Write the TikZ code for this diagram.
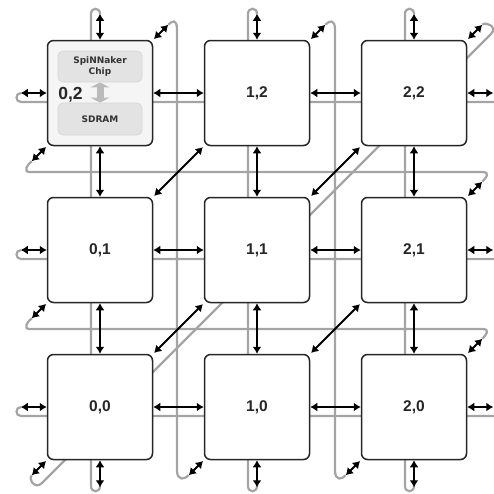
\documentclass[tikz,border=0pt]{standalone}
\usepackage{fontspec}
\setmainfont{Liberation Sans}
\newfontfamily\dejavu{DejaVu Sans}
\usetikzlibrary{arrows.meta,backgrounds}
\definecolor{wiregray}{HTML}{A4A4A4}
\definecolor{boxgray}{HTML}{F5F5F5}
\definecolor{innergray}{HTML}{E3E3E3}
\definecolor{innerline}{HTML}{D6D6D6}
\definecolor{fatgray}{HTML}{BBBBBB}
\begin{document}
\begin{tikzpicture}[x=1pt,y=-1pt,
  wire/.style={draw=wiregray,line width=2.2pt},
  chipbox/.style={draw=black!85,line width=1.5pt,rounded corners=6pt,fill=white,
    minimum width=105pt,minimum height=105pt,inner sep=0pt,
    font=\bfseries\fontsize{15.5}{15.5}\selectfont,text=black!85},
  link/.style={line width=1.8pt,{Latex[length=7pt,width=9pt]}-{Latex[length=7pt,width=9pt]}},
  diaglink/.style={link,shorten <=1.2pt,shorten >=1.2pt},
  innerbox/.style={draw=innerline,line width=0.8pt,fill=innergray,rounded corners=5pt,
    minimum width=84pt,inner sep=0pt,align=center,
    font=\dejavu\bfseries\fontsize{9}{10.5}\selectfont,text=black!80},
  fatarrow/.style={draw=fatgray,line width=7pt,{Triangle[length=5pt,width=19pt]}-{Triangle[length=5pt,width=19pt]}},
]
\useasboundingbox (0,0) rectangle (494,493);
\clip (0,0) rectangle (494,493);

% ---- chip nodes ----
\node[chipbox,fill=boxgray] (c-0-2) at (100,93) {};
\node[chipbox] (c-1-2) at (257,93) {1,2};
\node[chipbox] (c-2-2) at (414,93) {2,2};
\node[chipbox] (c-0-1) at (100,250) {0,1};
\node[chipbox] (c-1-1) at (257,250) {1,1};
\node[chipbox] (c-2-1) at (414,250) {2,1};
\node[chipbox] (c-0-0) at (100,407) {0,0};
\node[chipbox] (c-1-0) at (257,407) {1,0};
\node[chipbox] (c-2-0) at (414,407) {2,0};

% ---- contents of chip 0,2 ----
\node[innerbox,minimum height=31pt] (chip) at (100,66.5) {SpiNNaker\\Chip};
\node[innerbox,minimum height=32pt] (sdram) at (100,119) {SDRAM};
\draw[fatarrow] (chip.south) -- (sdram.north);
\node[font=\bfseries\fontsize{17.5}{17.5}\selectfont,text=black!85,anchor=base,inner sep=0pt] (lab02) at (70.5,99.5) {0,2};

% ---- free ends of the wrap-around links ----
\foreach \c in {0-2,1-2,2-2,2-1,2-0}
  \coordinate (ne-\c) at ([shift={(15,-15)}]c-\c.north east);
\foreach \c in {0-0,1-0,2-0,0-1,0-2}
  \coordinate (sw-\c) at ([shift={(-15,15)}]c-\c.south west);
\foreach \c in {0,1,2}{
  \coordinate (w-\c) at ([xshift=-26pt]c-0-\c.west);
  \coordinate (e-\c) at ([xshift=26pt]c-2-\c.east);
  \coordinate (n-\c) at ([yshift=26pt]c-\c-2.north);
  \coordinate (s-\c) at ([yshift=-27pt]c-\c-0.south);
}

% ---- wrap-around wires, behind the boxes ----
\begin{scope}[on background layer]
\foreach \x in {100,257,414}
  \draw[wire] (\x,14) .. controls (\x,7) and (\x-9,7) .. (\x-9,14) -- (\x-9,486)
    .. controls (\x-9,493) and (\x,493) .. (\x,486);
\foreach \y in {93,250,407}
  \draw[wire] (21,\y) .. controls (15,\y) and (15,\y+9) .. (21,\y+9) -- (500,\y+9);
% 0,2 NE -> 1,0 SW
\draw[wire] (ne-0-2) .. controls (172,21) and (177,18) .. (177,30) -- (177,470)
  .. controls (177,482) and (185,479) .. (sw-1-0);
% 1,2 NE -> 2,0 SW
\draw[wire] (ne-1-2) .. controls (329,21) and (335,18) .. (335,30) -- (335,470)
  .. controls (335,482) and (342,479) .. (sw-2-0);
% 2,2 NE -> 0,0 SW
\draw[wire] (ne-2-2) .. controls (486,21) and (498,27) .. (491,34) -- (42,483)
  .. controls (35,490) and (28,479) .. (sw-0-0);
% 2,1 NE -> 0,2 SW
\draw[wire] (ne-2-1) .. controls (486,178) and (491,172) .. (482,172) -- (30,172)
  .. controls (22,172) and (28,164) .. (sw-0-2);
% 2,0 NE -> 0,1 SW
\draw[wire] (ne-2-0) .. controls (486,335) and (491,329) .. (482,329) -- (30,329)
  .. controls (22,329) and (28,321) .. (sw-0-1);
\end{scope}

% ---- links between neighbouring chips ----
\foreach \y in {0,1,2}{
  \draw[link] (c-0-\y.east) -- (c-1-\y.west);
  \draw[link] (c-1-\y.east) -- (c-2-\y.west);
  \draw[link] (c-0-\y.west) -- (w-\y);
  \draw[link] (c-2-\y.east) -- (e-\y);
}
\foreach \x in {0,1,2}{
  \draw[link] (c-\x-2.south) -- (c-\x-1.north);
  \draw[link] (c-\x-1.south) -- (c-\x-0.north);
  \draw[link] (c-\x-2.north) -- (n-\x);
  \draw[link] (c-\x-0.south) -- (s-\x);
}
\draw[diaglink] (c-0-1.north east) -- (c-1-2.south west);
\draw[diaglink] (c-1-1.north east) -- (c-2-2.south west);
\draw[diaglink] (c-0-0.north east) -- (c-1-1.south west);
\draw[diaglink] (c-1-0.north east) -- (c-2-1.south west);
\foreach \c in {0-2,1-2,2-2,2-1,2-0}
  \draw[link,shorten <=1pt] (c-\c.north east) -- (ne-\c);
\foreach \c in {0-0,1-0,2-0,0-1,0-2}
  \draw[link,shorten <=1pt] (c-\c.south west) -- (sw-\c);
\end{tikzpicture}
\end{document}
